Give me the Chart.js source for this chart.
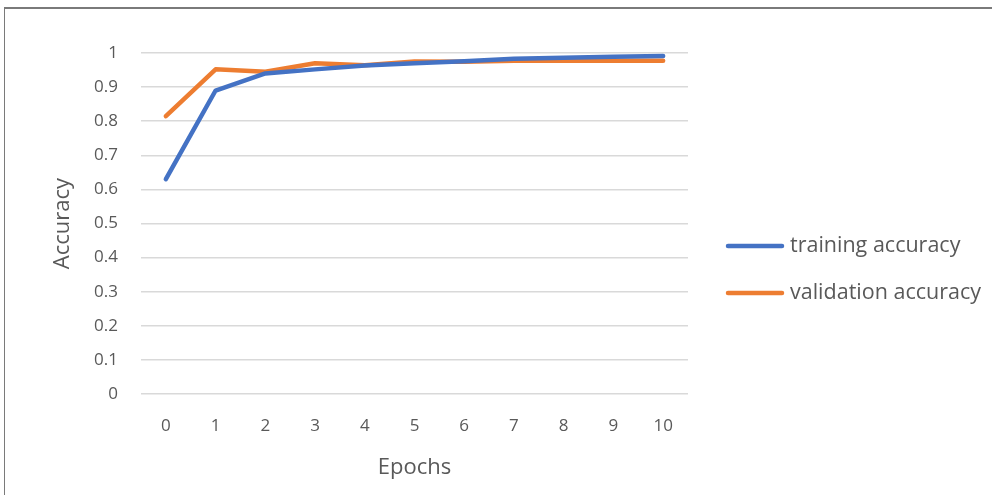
<!DOCTYPE html>
<html>
<head>
<meta charset="utf-8">
<title>Training and validation accuracy</title>
<script src="https://cdn.jsdelivr.net/npm/chart.js@4"></script>
<style>
  html, body { margin: 0; padding: 0; background: #ffffff; }
  #wrap { position: relative; width: 992px; height: 495px; overflow: hidden; }
  #frame { position: absolute; left: 4px; top: 7px; width: 1200px; height: 700px;
           border-left: 1px solid #7a7a7a; border-top: 2px solid #7a7a7a; box-sizing: border-box; }
  #c { position: absolute; left: 0; top: 0; }
</style>
</head>
<body>
<div id="wrap">
  <div id="frame"></div>
  <canvas id="c" width="992" height="495"></canvas>
</div>
<script>
// Epoch numbers along the x axis
const epochs = ['0', '1', '2', '3', '4', '5', '6', '7', '8', '9', '10'];

// Accuracy per epoch
const trainingAccuracy   = [0.63, 0.89, 0.94, 0.952, 0.963, 0.97, 0.976, 0.983, 0.986, 0.989, 0.991];
const validationAccuracy = [0.815, 0.952, 0.945, 0.97, 0.964, 0.975, 0.974, 0.977, 0.977, 0.977, 0.977];

// Y axis ticks
const yTicks = [0, 0.1, 0.2, 0.3, 0.4, 0.5, 0.6, 0.7, 0.8, 0.9, 1];
const yTickLabels = ['0', '0.1', '0.2', '0.3', '0.4', '0.5', '0.6', '0.7', '0.8', '0.9', '1'];

const FONT = "'Open Sans', 'Noto Sans', sans-serif";
const TEXT = '#595959';

// Legend drawn to the right of the plot, a short line sample then the label
const sideLegend = {
  id: 'sideLegend',
  afterDraw(chart) {
    const ctx = chart.ctx;
    const area = chart.chartArea;
    const x0 = area.right + 40;
    const lineLen = 54;
    const yStart = 246;
    const gap = 47;
    ctx.save();
    ctx.font = '21.5px ' + FONT;
    ctx.textBaseline = 'middle';
    ctx.textAlign = 'left';
    chart.data.datasets.forEach((ds, i) => {
      const y = yStart + i * gap;
      ctx.strokeStyle = ds.borderColor;
      ctx.lineWidth = 4.5;
      ctx.lineCap = 'round';
      ctx.beginPath();
      ctx.moveTo(x0, y);
      ctx.lineTo(x0 + lineLen, y);
      ctx.stroke();
      ctx.fillStyle = TEXT;
      ctx.fillText(ds.label, x0 + lineLen + 8, y);
    });
    ctx.restore();
  }
};

new Chart(document.getElementById('c'), {
  type: 'line',
  data: {
    labels: epochs,
    datasets: [
      {
        label: 'training accuracy',
        data: trainingAccuracy,
        borderColor: '#4472C4',
        backgroundColor: '#4472C4',
        borderWidth: 4.5,
        borderCapStyle: 'round',
        borderJoinStyle: 'round',
        pointRadius: 0,
        tension: 0
      },
      {
        label: 'validation accuracy',
        data: validationAccuracy,
        borderColor: '#ED7D31',
        backgroundColor: '#ED7D31',
        borderWidth: 4.5,
        borderCapStyle: 'round',
        borderJoinStyle: 'round',
        pointRadius: 0,
        tension: 0
      }
    ]
  },
  options: {
    responsive: false,
    animation: false,
    devicePixelRatio: 1,
    layout: { padding: { left: 45, right: 304, top: 53, bottom: 0 } },
    plugins: {
      legend: { display: false },
      tooltip: { enabled: false }
    },
    scales: {
      x: {
        type: 'category',
        offset: true,
        grid: { display: false, drawTicks: false },
        border: { display: false },
        ticks: { color: TEXT, font: { family: FONT, size: 17 }, padding: 22, maxRotation: 0 },
        title: { display: true, text: 'Epochs', color: TEXT, font: { family: FONT, size: 22 },
                 padding: { top: 4, bottom: 14 } },
        afterFit(scale) { scale.height = 101; }
      },
      y: {
        min: 0,
        max: 1,
        grid: { color: '#d9d9d9', lineWidth: 1.5, drawTicks: false },
        border: { display: false },
        afterBuildTicks(scale) { scale.ticks = yTicks.map(v => ({ value: v })); },
        ticks: {
          color: TEXT,
          font: { family: FONT, size: 17 },
          padding: 23,
          callback: (v) => yTickLabels[yTicks.findIndex(t => Math.abs(t - v) < 1e-9)]
        },
        title: { display: true, text: 'Accuracy', color: TEXT, font: { family: FONT, size: 22 },
                 padding: { top: 5, bottom: 0 } },
        afterFit(scale) { scale.width = 96; }
      }
    }
  },
  plugins: [sideLegend]
});
</script>
</body>
</html>
